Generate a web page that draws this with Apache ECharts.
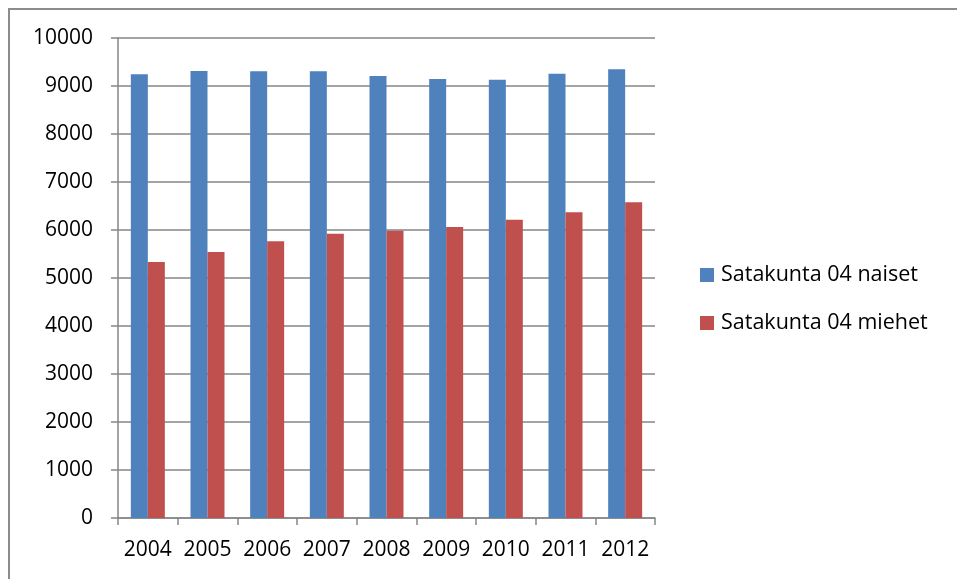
<!DOCTYPE html>
<html>
<head>
<meta charset="utf-8">
<script src="https://cdn.jsdelivr.net/npm/echarts@6/dist/echarts.min.js"></script>
<style>
  body { margin: 0; background: #fff; }
  #frame { position: absolute; left: 8px; top: 8px; width: 960px; height: 580px; border: 2px solid #8c8c8c; box-sizing: border-box; }
  #chart1 { position: absolute; left: 0; top: 0; width: 957px; height: 579px; }
</style>
</head>
<body>
<div id="frame"></div>
<div id="chart1"></div>
<script>
const years = ['2004', '2005', '2006', '2007', '2008', '2009', '2010', '2011', '2012'];
const naiset = [9244, 9313, 9306, 9306, 9208, 9146, 9131, 9256, 9348];
const miehet = [5333, 5542, 5765, 5923, 5985, 6063, 6215, 6369, 6577];
const yTicks = [0, 1000, 2000, 3000, 4000, 5000, 6000, 7000, 8000, 9000, 10000];

const chart1 = echarts.init(document.getElementById('chart1'));

const axisGray = '#868686';
const fontFam = '"Open Sans", "Noto Sans", sans-serif';

const option = {
  animation: false,
  grid: { left: 118, top: 38, width: 537, height: 480 },
  legend: {
    orient: 'vertical',
    left: 695,
    top: 259,
    itemWidth: 14,
    itemHeight: 14,
    itemGap: 26,
    icon: 'rect',
    textStyle: { color: '#000', fontSize: 21.5, fontFamily: fontFam, padding: [0, 0, 0, 2] },
    data: ['Satakunta 04 naiset', 'Satakunta 04 miehet']
  },
  xAxis: {
    type: 'category',
    data: years,
    axisLine: { lineStyle: { color: axisGray, width: 1.5 } },
    axisTick: { show: true, interval: 0, length: 7, lineStyle: { color: axisGray, width: 1.5 } },
    axisLabel: { interval: 0, hideOverlap: false, color: '#000', fontSize: 21, fontFamily: fontFam, margin: 22 }
  },
  yAxis: {
    type: 'value',
    min: yTicks[0],
    max: yTicks[yTicks.length - 1],
    interval: 1000,
    axisLine: { show: true, lineStyle: { color: axisGray, width: 1.5 } },
    axisTick: { show: true, length: 7, lineStyle: { color: axisGray, width: 1.5 } },
    splitLine: { lineStyle: { color: axisGray, width: 1.5 } },
    axisLabel: {
      color: '#000', fontSize: 21, fontFamily: fontFam, margin: 25,
      formatter: function (v) { return String(v); }
    }
  },
  series: [
    {
      name: 'Satakunta 04 naiset',
      type: 'bar',
      data: naiset,
      barWidth: 17,
      barGap: '0%',
      itemStyle: { color: '#4f81bd' }
    },
    {
      name: 'Satakunta 04 miehet',
      type: 'bar',
      data: miehet,
      barWidth: 17,
      itemStyle: { color: '#c0504d' }
    }
  ]
};

chart1.setOption(option);
</script>
</body>
</html>
